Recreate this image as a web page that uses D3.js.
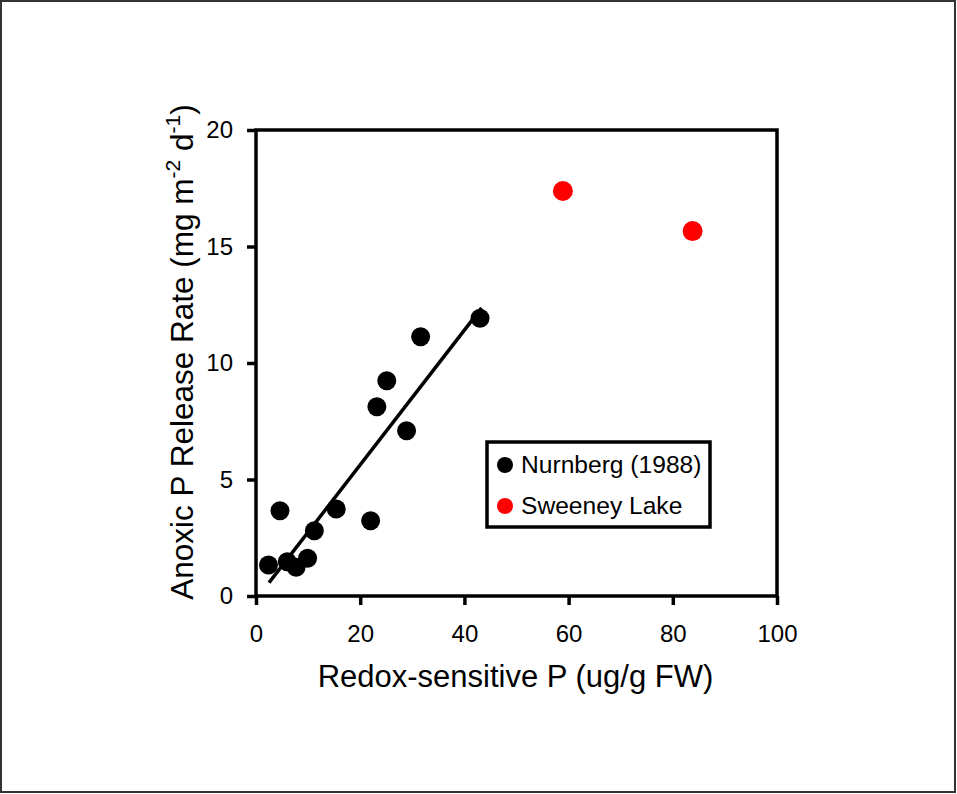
<!DOCTYPE html>
<html>
<head>
<meta charset="utf-8">
<script src="https://cdn.jsdelivr.net/npm/d3@7"></script>
<style>
  body { margin: 0; background: #fff; }
  svg { display: block; font-family: Arial, "Liberation Sans", sans-serif; }
  .tick text { font-size: 24px; fill: #000; }
</style>
</head>
<body>
<svg width="957" height="794"></svg>
<script>
// Nurnberg (1988) lakes
const nurnbergX = [2.4, 4.6, 6.0, 7.7, 9.9, 11.2, 15.4, 22.0, 23.2, 25.1, 28.9, 31.6, 43.0];
const nurnbergY = [1.33, 3.66, 1.47, 1.23, 1.62, 2.80, 3.73, 3.23, 8.12, 9.24, 7.09, 11.13, 11.92];
// Sweeney Lake
const sweeneyX = [58.9, 83.8];
const sweeneyY = [17.38, 15.66];
// regression line through the Nurnberg points
const fitSlope = 0.289;
const fitIntercept = -0.15;
const fitRange = [2.5, 43.3];

const xTicks = [0, 20, 40, 60, 80, 100];
const yTicks = [0, 5, 10, 15, 20];

const svg = d3.select("svg");

const plot = { left: 256, right: 777, top: 130, bottom: 596 };

const xScale = d3.scaleLinear().domain([0, 100]).range([plot.left, plot.right]);
const yScale = d3.scaleLinear().domain([0, 20]).range([plot.bottom, plot.top]);

// outer frame
svg.append("rect")
  .attr("x", 1).attr("y", 1)
  .attr("width", 954).attr("height", 791)
  .attr("fill", "none")
  .attr("stroke", "#333")
  .attr("stroke-width", 2);

// axes
const xAxisG = svg.append("g")
  .attr("transform", `translate(0,${plot.bottom})`)
  .call(d3.axisBottom(xScale).tickValues(xTicks).tickSize(9).tickPadding(20));
xAxisG.select(".domain").remove();

const yAxisG = svg.append("g")
  .attr("transform", `translate(${plot.left},0)`)
  .call(d3.axisLeft(yScale).tickValues(yTicks).tickSize(9).tickPadding(14));
yAxisG.select(".domain").remove();

svg.selectAll(".tick line").attr("stroke", "#000").attr("stroke-width", 3.5);

// plot box
svg.append("rect")
  .attr("x", plot.left).attr("y", plot.top)
  .attr("width", plot.right - plot.left)
  .attr("height", plot.bottom - plot.top)
  .attr("fill", "none")
  .attr("stroke", "#000")
  .attr("stroke-width", 3.5);

// points
const nurnberg = nurnbergX.map((x, i) => ({ x, y: nurnbergY[i] }));
const sweeney = sweeneyX.map((x, i) => ({ x, y: sweeneyY[i] }));

svg.append("g").selectAll("circle")
  .data(nurnberg)
  .join("circle")
  .attr("cx", d => xScale(d.x))
  .attr("cy", d => yScale(d.y))
  .attr("r", 9.5)
  .attr("fill", "#000");

svg.append("g").selectAll("circle")
  .data(sweeney)
  .join("circle")
  .attr("cx", d => xScale(d.x))
  .attr("cy", d => yScale(d.y))
  .attr("r", 10)
  .attr("fill", "#ff0000");

// fit line
const fitLine = d3.line()
  .x(d => xScale(d))
  .y(d => yScale(fitSlope * d + fitIntercept));

svg.append("path")
  .datum(fitRange)
  .attr("d", fitLine)
  .attr("fill", "none")
  .attr("stroke", "#000")
  .attr("stroke-width", 3.5);

// axis titles
svg.append("text")
  .attr("x", 515.5)
  .attr("y", 687)
  .attr("text-anchor", "middle")
  .attr("font-size", 31)
  .text("Redox-sensitive P (ug/g FW)");

const yTitle = svg.append("text")
  .attr("transform", "translate(193,352) rotate(-90)")
  .attr("text-anchor", "middle")
  .attr("font-size", 31.5);
yTitle.append("tspan").text("Anoxic P Release Rate (mg m");
yTitle.append("tspan").attr("font-size", 21).attr("dy", -13).text("-2");
yTitle.append("tspan").attr("dy", 13).text(" d");
yTitle.append("tspan").attr("font-size", 21).attr("dy", -13).text("-1");
yTitle.append("tspan").attr("dy", 13).text(")");

// legend
const legend = svg.append("g");
legend.append("rect")
  .attr("x", 487).attr("y", 442)
  .attr("width", 223).attr("height", 85)
  .attr("fill", "#fff")
  .attr("stroke", "#000")
  .attr("stroke-width", 3.5);

const legendItems = [
  { label: "Nurnberg (1988)", color: "#000" },
  { label: "Sweeney Lake", color: "#ff0000" }
];

legend.selectAll(".item")
  .data(legendItems)
  .join("g")
  .attr("class", "item")
  .attr("transform", (_, i) => `translate(505,${465 + i * 41})`)
  .each(function (d) {
    const g = d3.select(this);
    g.append("circle").attr("r", 8).attr("fill", d.color);
    g.append("text")
      .attr("x", 16)
      .attr("y", 8)
      .attr("font-size", 24.6)
      .text(d.label);
  });
</script>
</body>
</html>
